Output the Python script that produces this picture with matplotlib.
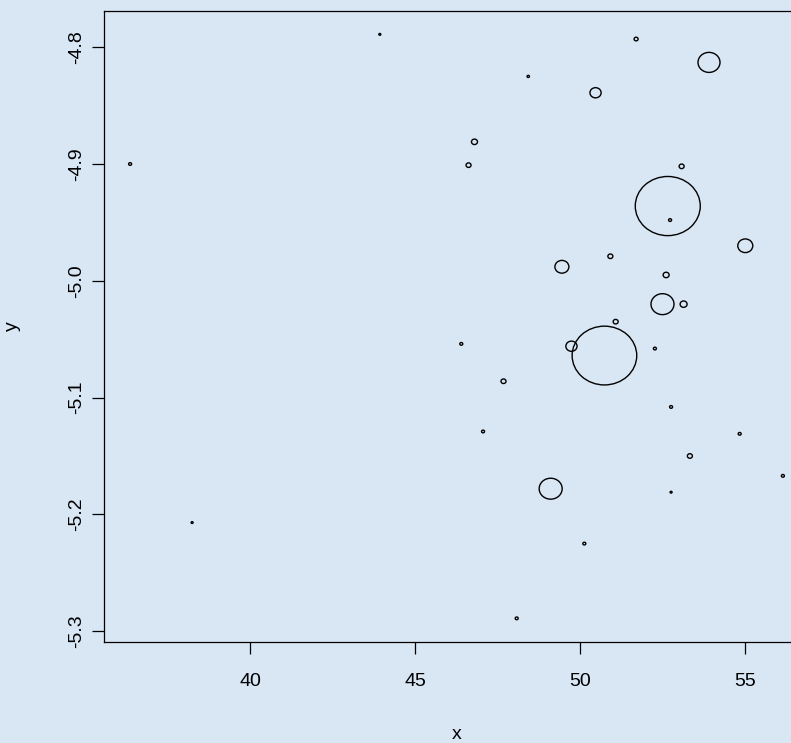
import numpy as np
import matplotlib
matplotlib.use("Agg")
import matplotlib.pyplot as plt
from matplotlib.path import Path

plt.rcParams['font.family'] = ['Liberation Sans', 'DejaVu Sans']
plt.rcParams['axes.unicode_minus'] = False

# data: x, y and symbol radius (relative size)
x_vals = [36.36, 43.93, 48.43, 50.47, 46.80, 46.62, 51.70, 53.91, 53.08, 52.66,
          52.73, 55.01, 50.92, 49.45, 52.61, 52.50, 53.14, 51.08, 50.74, 49.74,
          52.27, 46.40, 47.68, 47.06, 49.11, 50.13, 48.08, 52.76, 54.84, 53.33,
          56.15, 52.76, 38.24]
y_vals = [-4.900, -4.789, -4.825, -4.839, -4.881, -4.901, -4.793, -4.813, -4.902, -4.936,
          -4.948, -4.970, -4.979, -4.988, -4.995, -5.020, -5.020, -5.035, -5.064, -5.056,
          -5.058, -5.054, -5.086, -5.129, -5.178, -5.225, -5.289, -5.108, -5.131, -5.150,
          -5.167, -5.181, -5.207]
radius = [1.5, 1.0, 1.2, 5.6, 3.0, 2.5, 2.0, 11.0, 2.5, 32.5,
          1.5, 7.5, 2.5, 7.0, 3.0, 11.5, 3.5, 2.5, 32.3, 5.6,
          1.5, 1.5, 2.5, 1.5, 11.5, 1.5, 1.5, 1.5, 1.5, 2.5,
          1.5, 1.0, 1.0]
x_ticks = [40, 45, 50, 55]
y_ticks = [-5.3, -5.2, -5.1, -5.0, -4.9, -4.8]

W, H, DPI = 791, 743, 100
bg = '#D9E6F4'
fig = plt.figure(figsize=(W / DPI, H / DPI), dpi=DPI, facecolor=bg)

left_px, right_px, top_px, bottom_px = 104, 809, 11, 641.7
ax = fig.add_axes([left_px / W, (H - bottom_px) / H,
                   (right_px - left_px) / W, (bottom_px - top_px) / H])
ax.set_facecolor(bg)

# R-style 4% extension of the data range
xmin, xmax = min(x_vals), max(x_vals)
ymin, ymax = min(y_vals), max(y_vals)
dx, dy = (xmax - xmin) * 0.04, (ymax - ymin) * 0.04
ax.set_xlim(xmin - dx, xmax + dx)
ax.set_ylim(ymin - dy, ymax + dy)

# slightly flattened circle marker (matches reference pixel aspect)
circ = Path.unit_circle()
verts = circ.vertices.copy()
verts[:, 1] *= 0.91
ell = Path(verts, circ.codes)

sizes = [(2 * r * 72 / DPI) ** 2 for r in radius]
ax.scatter(x_vals, y_vals, s=sizes, marker=ell, facecolors='none',
           edgecolors='black', linewidths=1.0, zorder=3)

ax.set_xticks(x_ticks)
ax.set_xticklabels([str(t) for t in x_ticks])
ax.set_yticks(y_ticks)
ax.set_yticklabels([f"{t:.1f}" for t in y_ticks], rotation=90, va='center')

ax.tick_params(axis='x', length=8.8, width=0.9, pad=14, labelsize=14, colors='black')
ax.tick_params(axis='y', length=8.8, width=0.9, pad=5, labelsize=14, colors='black')
for s in ['left', 'top', 'bottom', 'right']:
    ax.spines[s].set_linewidth(0.9)
    ax.spines[s].set_color('black')

ax.set_xlabel('x', fontsize=14)
ax.set_ylabel('y', fontsize=14)
ax_w = right_px - left_px
ax_h = bottom_px - top_px
ax.xaxis.set_label_coords(0.5, -(734.5 - bottom_px) / ax_h)
ax.xaxis.label.set_va('center')
ax.yaxis.set_label_coords(-(left_px - 12) / ax_w, 0.5)
ax.yaxis.label.set_va('center')

fig.savefig('out.png', dpi=DPI, facecolor=bg)
